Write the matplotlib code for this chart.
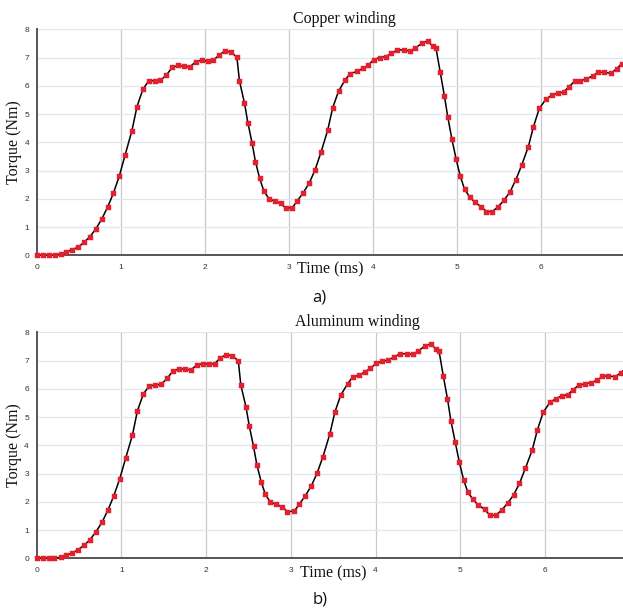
import matplotlib
matplotlib.use("Agg")
import matplotlib.pyplot as plt
import numpy as np

# ---- data ----
time_ms = [0.0, 0.07, 0.14, 0.21, 0.29, 0.35, 0.42, 0.49, 0.56, 0.63, 0.70, 0.77,
           0.84, 0.91, 0.98, 1.05, 1.13, 1.19, 1.26, 1.33, 1.40, 1.47, 1.54, 1.61,
           1.68, 1.75, 1.82, 1.89, 1.96, 2.04, 2.10, 2.17, 2.24, 2.31, 2.38, 2.41,
           2.47, 2.51, 2.56, 2.60, 2.65, 2.70, 2.76, 2.83, 2.90, 2.96, 3.04, 3.10,
           3.17, 3.24, 3.31, 3.38, 3.46, 3.52, 3.59, 3.67, 3.73, 3.81, 3.88, 3.94,
           4.01, 4.08, 4.15, 4.22, 4.29, 4.37, 4.44, 4.50, 4.58, 4.65, 4.71, 4.75,
           4.80, 4.85, 4.89, 4.94, 4.99, 5.04, 5.09, 5.15, 5.21, 5.29, 5.35, 5.42,
           5.49, 5.56, 5.63, 5.70, 5.77, 5.85, 5.91, 5.98, 6.06, 6.13, 6.20, 6.27,
           6.33, 6.40, 6.47, 6.54, 6.62, 6.68, 6.75, 6.83, 6.90, 6.96]

torque_copper = [0.0, 0.0, 0.0, 0.01, 0.045, 0.12, 0.20, 0.29, 0.46, 0.66, 0.93, 1.28,
                 1.70, 2.20, 2.81, 3.56, 4.41, 5.26, 5.87, 6.18, 6.18, 6.19, 6.38, 6.65,
                 6.72, 6.69, 6.67, 6.85, 6.91, 6.87, 6.91, 7.09, 7.24, 7.19, 7.01, 6.17,
                 5.39, 4.70, 3.98, 3.32, 2.73, 2.28, 2.01, 1.91, 1.84, 1.67, 1.69, 1.93,
                 2.22, 2.55, 3.02, 3.64, 4.42, 5.22, 5.81, 6.22, 6.43, 6.51, 6.62, 6.72,
                 6.93, 7.00, 7.03, 7.15, 7.27, 7.27, 7.23, 7.33, 7.50, 7.59, 7.40, 7.33,
                 6.49, 5.64, 4.90, 4.10, 3.40, 2.79, 2.34, 2.07, 1.88, 1.72, 1.55, 1.55,
                 1.72, 1.95, 2.24, 2.67, 3.19, 3.85, 4.55, 5.20, 5.53, 5.67, 5.74, 5.78,
                 5.96, 6.16, 6.18, 6.24, 6.36, 6.48, 6.48, 6.44, 6.60, 6.78]

torque_aluminum = [0.0, 0.0, 0.0, 0.0, 0.04, 0.11, 0.18, 0.31, 0.46, 0.66, 0.94, 1.27,
                   1.70, 2.21, 2.81, 3.54, 4.36, 5.23, 5.82, 6.11, 6.13, 6.16, 6.37, 6.63,
                   6.71, 6.69, 6.67, 6.84, 6.89, 6.87, 6.89, 7.10, 7.21, 7.16, 7.00, 6.13,
                   5.37, 4.68, 3.96, 3.30, 2.71, 2.26, 1.98, 1.91, 1.82, 1.65, 1.67, 1.91,
                   2.21, 2.55, 3.01, 3.60, 4.39, 5.17, 5.78, 6.17, 6.42, 6.48, 6.61, 6.73,
                   6.90, 6.98, 7.01, 7.13, 7.24, 7.24, 7.22, 7.33, 7.51, 7.59, 7.42, 7.34,
                   6.46, 5.64, 4.87, 4.13, 3.40, 2.78, 2.34, 2.09, 1.89, 1.73, 1.52, 1.52,
                   1.71, 1.95, 2.24, 2.65, 3.19, 3.83, 4.53, 5.17, 5.52, 5.65, 5.75, 5.79,
                   5.96, 6.13, 6.17, 6.22, 6.30, 6.45, 6.45, 6.43, 6.57, 6.75]

panel_titles = ["Copper winding", "Aluminum winding"]
panel_tags = ["a)", "b)"]
x_ticks = [0, 1, 2, 3, 4, 5, 6]
y_ticks = [0, 1, 2, 3, 4, 5, 6, 7, 8]

W, H = 623, 608
fig = plt.figure(figsize=(W / 100, H / 100), dpi=100)

# layout in pixels: (left, y_top_of_axes(=8), y_bottom_of_axes(=0), px per ms)
layouts = [
    dict(left=37.0, top=29.3, bottom=255.3, ppm=84.0, title_x=344, title_base=23,
         ylab_y=142, xlab_x=297, xlab_base=273, tag_x=319, tag_base=302),
    dict(left=36.7, top=332.3, bottom=558.3, ppm=84.7, title_x=357, title_base=326,
         ylab_y=445, xlab_x=300, xlab_base=577, tag_x=320, tag_base=603),
]
series = [torque_copper, torque_aluminum]

serif = ["Liberation Serif", "DejaVu Serif"]

for lay, title, tag, yv in zip(layouts, panel_titles, panel_tags, series):
    width_px = W - lay["left"]
    ax = fig.add_axes([lay["left"] / W, (H - lay["bottom"]) / H,
                       width_px / W, (lay["bottom"] - lay["top"]) / H])
    ax.set_xlim(0, width_px / lay["ppm"])
    ax.set_ylim(0, 8)

    # grid
    for xv in x_ticks[1:]:
        ax.axvline(xv, color="#c9c9c9", lw=0.9, zorder=0)
    for yy in y_ticks[1:]:
        ax.axhline(yy, color="#dfe7f2", lw=0.9, zorder=0)

    ax.plot(time_ms, yv, color="black", lw=1.1, zorder=3, clip_on=False,
            solid_joinstyle="round")
    ax.plot(time_ms, yv, linestyle="none", marker="s", markersize=3.6,
            markerfacecolor="#e3202e", markeredgecolor="#e3202e",
            markeredgewidth=0.3, zorder=4, clip_on=False)

    for s in ["top", "right"]:
        ax.spines[s].set_visible(False)
    for s in ["left", "bottom"]:
        ax.spines[s].set_color("#555555")
        ax.spines[s].set_linewidth(1.4)
        ax.spines[s].set_zorder(2)

    ax.set_xticks(x_ticks)
    ax.set_yticks(y_ticks)
    ax.set_xticklabels([str(v) for v in x_ticks])
    ax.set_yticklabels([str(v) for v in y_ticks])
    ax.tick_params(axis="both", length=0, labelsize=6, labelcolor="#333333")
    ax.tick_params(axis="x", pad=6.2)
    ax.tick_params(axis="y", pad=5.6)
    for lbl in ax.get_xticklabels() + ax.get_yticklabels():
        lbl.set_family(["Liberation Sans", "DejaVu Sans"])

    fig.text(lay["title_x"] / W, 1 - lay["title_base"] / H, title,
             ha="center", va="baseline", fontsize=11.4, family=serif, color="#111111")
    fig.text(14 / W, 1 - lay["ylab_y"] / H, "Torque (Nm)", rotation=90,
             ha="center", va="center", fontsize=11.4, family=serif, color="#111111")
    fig.text(lay["xlab_x"] / W, 1 - lay["xlab_base"] / H, "Time (ms)",
             ha="left", va="baseline", fontsize=11.4, family=serif, color="#111111")
    fig.text(lay["tag_x"] / W, 1 - lay["tag_base"] / H, tag,
             ha="center", va="baseline", fontsize=12,
             family=["Open Sans", "DejaVu Sans"], color="#111111")

fig.savefig("out.png", dpi=100, facecolor="white")
